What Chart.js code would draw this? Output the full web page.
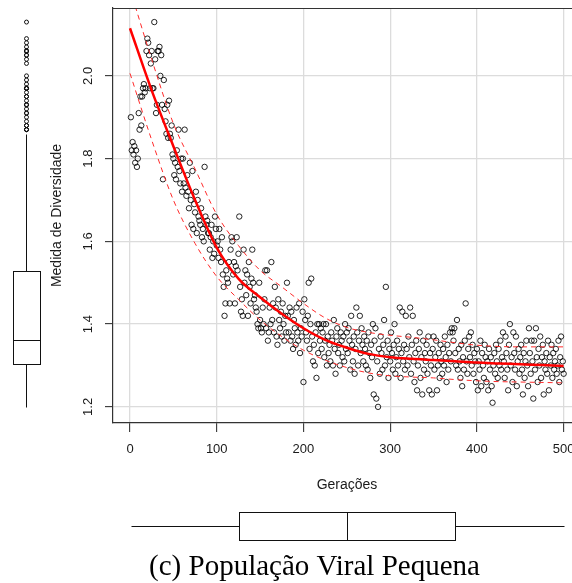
<!DOCTYPE html>
<html>
<head>
<meta charset="utf-8">
<script src="https://cdn.jsdelivr.net/npm/chart.js@4"></script>
<style>
html,body{margin:0;padding:0;background:#fff;overflow:hidden;width:572px;height:583px}
canvas{display:block}
</style>
</head>
<body>
<canvas id="grafico" width="600" height="583"></canvas>
<script>
// Medida de diversidade por geração (gerações 1..500)
const geracoes = Array.from({length: 500}, (_, i) => i + 1);
const diversidade = [
  1.90,1.82,1.84,1.81,1.83,1.79,1.82,1.78,1.80,1.91,
  1.87,1.95,1.88,1.95,1.97,1.98,1.96,1.97,2.06,2.09,
  2.08,2.05,1.97,2.03,2.06,1.97,1.97,2.13,2.04,1.91,
  1.93,2.06,2.06,2.07,2.00,2.05,1.93,1.75,1.99,1.92,
  1.89,1.86,1.93,1.85,1.94,1.86,1.85,1.88,1.81,1.80,
  1.76,1.79,1.75,1.82,1.78,1.87,1.77,1.74,1.80,1.72,
  1.80,1.74,1.87,1.73,1.71,1.76,1.72,1.68,1.79,1.70,
  1.64,1.77,1.63,1.69,1.67,1.72,1.62,1.70,1.66,1.65,
  1.64,1.68,1.61,1.63,1.60,1.78,1.66,1.64,1.65,1.62,
  1.62,1.58,1.61,1.64,1.56,1.60,1.57,1.66,1.63,1.59,
  1.60,1.56,1.63,1.58,1.55,1.61,1.52,1.49,1.42,1.45,
  1.53,1.51,1.50,1.55,1.45,1.58,1.61,1.60,1.52,1.55,
  1.45,1.54,1.61,1.53,1.57,1.66,1.49,1.43,1.46,1.42,
  1.58,1.50,1.53,1.47,1.52,1.42,1.55,1.49,1.45,1.51,
  1.58,1.50,1.46,1.47,1.44,1.43,1.40,1.39,1.50,1.41,
  1.39,1.38,1.44,1.40,1.46,1.53,1.39,1.53,1.36,1.38,
  1.44,1.40,1.55,1.41,1.45,1.38,1.49,1.44,1.37,1.35,
  1.46,1.41,1.39,1.43,1.37,1.45,1.40,1.36,1.42,1.38,
  1.50,1.42,1.38,1.44,1.36,1.43,1.37,1.34,1.41,1.39,
  1.35,1.44,1.38,1.36,1.45,1.33,1.39,1.37,1.43,1.26,
  1.46,1.41,1.38,1.36,1.42,1.50,1.34,1.40,1.51,1.37,
  1.31,1.35,1.30,1.38,1.27,1.40,1.33,1.40,1.36,1.39,
  1.34,1.38,1.40,1.32,1.36,1.40,1.30,1.37,1.33,1.35,
  1.31,1.38,1.36,1.30,1.41,1.34,1.28,1.37,1.39,1.33,
  1.35,1.30,1.38,1.36,1.32,1.37,1.31,1.40,1.34,1.38,
  1.33,1.39,1.36,1.29,1.42,1.35,1.31,1.37,1.28,1.34,
  1.44,1.38,1.30,1.36,1.42,1.33,1.39,1.35,1.31,1.37,
  1.34,1.30,1.36,1.29,1.38,1.33,1.27,1.35,1.32,1.40,
  1.23,1.36,1.39,1.22,1.31,1.20,1.34,1.28,1.37,1.33,
  1.29,1.35,1.41,1.30,1.49,1.32,1.36,1.27,1.34,1.31,
  1.38,1.33,1.29,1.35,1.40,1.28,1.32,1.36,1.30,1.34,
  1.44,1.27,1.33,1.43,1.31,1.35,1.29,1.42,1.34,1.30,
  1.37,1.32,1.44,1.28,1.35,1.42,1.31,1.26,1.33,1.36,
  1.24,1.30,1.34,1.38,1.27,1.32,1.23,1.36,1.29,1.33,
  1.31,1.35,1.28,1.37,1.24,1.33,1.30,1.23,1.34,1.37,
  1.29,1.32,1.36,1.24,1.30,1.33,1.27,1.35,1.31,1.28,
  1.34,1.30,1.37,1.32,1.26,1.35,1.29,1.33,1.38,1.31,
  1.39,1.38,1.36,1.39,1.33,1.30,1.41,1.29,1.34,1.31,
  1.27,1.35,1.25,1.32,1.29,1.36,1.45,1.31,1.28,1.34,
  1.37,1.32,1.38,1.30,1.35,1.28,1.33,1.31,1.26,1.34,
  1.24,1.31,1.29,1.36,1.25,1.33,1.30,1.27,1.35,1.32,
  1.26,1.31,1.24,1.34,1.29,1.32,1.25,1.21,1.30,1.33,
  1.28,1.35,1.31,1.27,1.34,1.30,1.36,1.29,1.32,1.38,
  1.31,1.27,1.37,1.33,1.29,1.24,1.35,1.40,1.30,1.32,
  1.26,1.38,1.33,1.29,1.37,1.25,1.31,1.34,1.28,1.32,
  1.35,1.29,1.23,1.33,1.27,1.31,1.36,1.30,1.25,1.39,
  1.33,1.28,1.36,1.31,1.22,1.36,1.29,1.39,1.32,1.26,
  1.34,1.30,1.37,1.27,1.32,1.35,1.23,1.31,1.29,1.33,
  1.28,1.36,1.24,1.32,1.30,1.35,1.27,1.33,1.29,1.31,
  1.34,1.28,1.30,1.36,1.26,1.32,1.37,1.29,1.31,1.28
];

// curva ajustada e faixas (tracejadas)
const ajusteX  = [0,25,50,75,100,125,150,175,200,225,250,275,300,325,350,375,400,425,450,475,500];
const ajusteY  = [2.115,1.965,1.83,1.70,1.585,1.51,1.465,1.425,1.39,1.362,1.343,1.328,1.32,1.316,1.313,1.31,1.307,1.305,1.303,1.301,1.299];
const bandaSup = [2.21,2.04,1.885,1.775,1.665,1.59,1.53,1.49,1.45,1.415,1.392,1.38,1.373,1.368,1.362,1.355,1.349,1.346,1.345,1.345,1.345];
const bandaInf = [2.006,1.845,1.70,1.595,1.515,1.46,1.41,1.37,1.337,1.313,1.295,1.282,1.275,1.272,1.27,1.266,1.263,1.261,1.26,1.259,1.258];

const ticksX = [0,100,200,300,400,500];
const ticksY = [1.2,1.4,1.6,1.8,2.0];

// boxplots: limite inferior, Q1, mediana, Q3, limite superior
const boxDiversidade = [1.20,1.304,1.361,1.528,1.86];
const boxGeracoes    = [1,125.75,250.5,375.25,500];

const pontos = geracoes.map((g,i)=>({x:g, y:diversidade[i]}));
const curva = arr => ajusteX.map((x,i)=>({x, y:arr[i]}));

Chart.defaults.font.family = '"Liberation Sans", Arial, sans-serif';
Chart.defaults.color = '#1a1a1a';

const boxplots = {
  id:'boxplots',
  afterDraw(chart){
    const {ctx, chartArea:a, scales:{x, y}} = chart;
    const r = v => Math.round(v)+0.5;
    const seg = (x0,y0,x1,y1)=>{ ctx.beginPath(); ctx.moveTo(x0,y0); ctx.lineTo(x1,y1); ctx.stroke(); };
    ctx.save();
    // moldura superior
    ctx.strokeStyle='#333'; ctx.lineWidth=1.2;
    seg(a.left, r(a.top), a.right, r(a.top));

    ctx.strokeStyle='#111'; ctx.lineWidth=1;
    // boxplot vertical (diversidade)
    const [lo,q1,med,q3,hi] = boxDiversidade.map(v=>r(y.getPixelForValue(v)));
    const cx=26.5, bx0=13.5, bx1=40.5;
    seg(cx,lo,cx,q1); seg(cx,q3,cx,hi);
    ctx.strokeRect(bx0,q3,bx1-bx0,q1-q3);
    seg(bx0,med,bx1,med);
    diversidade.filter(v=>v>boxDiversidade[4]).forEach(v=>{
      ctx.beginPath(); ctx.arc(cx, y.getPixelForValue(v), 2, 0, Math.PI*2); ctx.stroke();
    });
    // boxplot horizontal (gerações)
    const [l2,a1,m2,a3,h2] = boxGeracoes.map(v=>r(x.getPixelForValue(v)));
    const cy=526.5, by0=512.5, by1=540.5;
    seg(l2,cy,a1,cy); seg(a3,cy,h2,cy);
    ctx.strokeRect(a1,by0,a3-a1,by1-by0);
    seg(m2,by0,m2,by1);

    // legenda
    ctx.fillStyle='#000';
    ctx.font='29px "Liberation Serif", "Times New Roman", serif';
    ctx.textAlign='center'; ctx.textBaseline='alphabetic';
    ctx.fillText('(c) População Viral Pequena', 314.5, 575);
    ctx.restore();
  }
};

new Chart(document.getElementById('grafico'), {
  type:'scatter',
  data:{ datasets:[
    {type:'scatter', data:pontos, order:3,
      pointStyle:'circle', pointRadius:2.7, pointBorderWidth:1,
      borderColor:'rgba(0,0,0,0.85)', backgroundColor:'rgba(0,0,0,0)', pointHoverRadius:2.7},
    {type:'line', data:curva(bandaSup), order:2, borderColor:'#ff2a2a', borderWidth:1,
      borderDash:[5,4], pointRadius:0, fill:false, cubicInterpolationMode:'monotone'},
    {type:'line', data:curva(bandaInf), order:2, borderColor:'#ff2a2a', borderWidth:1,
      borderDash:[5,4], pointRadius:0, fill:false, cubicInterpolationMode:'monotone'},
    {type:'line', data:curva(ajusteY), order:1, borderColor:'#ff0000', borderWidth:2.5,
      pointRadius:0, fill:false, cubicInterpolationMode:'monotone'}
  ]},
  options:{
    responsive:false, animation:false, devicePixelRatio:1,
    layout:{ padding:{ left:0, top:8, right:19, bottom:80 } },
    plugins:{ legend:{display:false}, tooltip:{enabled:false} },
    scales:{
      x:{ type:'linear', position:'bottom', min:-19.6, max:520,
        afterBuildTicks: s => { s.ticks = ticksX.map(v=>({value:v})); },
        afterFit: s => { s.height = 80; s.paddingLeft = 0; s.paddingRight = 0; },
        grid:{ color:'#dcdcdc', lineWidth:1.3, tickLength:9, tickColor:'#222', tickWidth:1 },
        border:{ color:'#333', width:1.2 },
        ticks:{ font:{size:13}, padding:10, autoSkip:false, maxRotation:0 },
        title:{ display:true, text:'Gerações', font:{size:14}, padding:{top:0, bottom:9.6} }
      },
      y:{ type:'linear', position:'left', min:1.161, max:2.164,
        afterBuildTicks: s => { s.ticks = ticksY.map(v=>({value:v})); },
        afterFit: s => { s.width = 113; s.paddingTop = 0; s.paddingBottom = 0; },
        grid:{ color:'#dcdcdc', lineWidth:1.3, tickLength:8, tickColor:'#222', tickWidth:1 },
        border:{ color:'#333', width:1.2 },
        ticks:{ font:{size:13}, padding:8, autoSkip:false, minRotation:90, maxRotation:90,
          crossAlign:'center', callback: v => v.toFixed(1) },
        title:{ display:true, text:'Medida de Diversidade', font:{size:14}, padding:{top:49, bottom:0} }
      }
    }
  },
  plugins:[boxplots]
});
</script>
</body>
</html>
